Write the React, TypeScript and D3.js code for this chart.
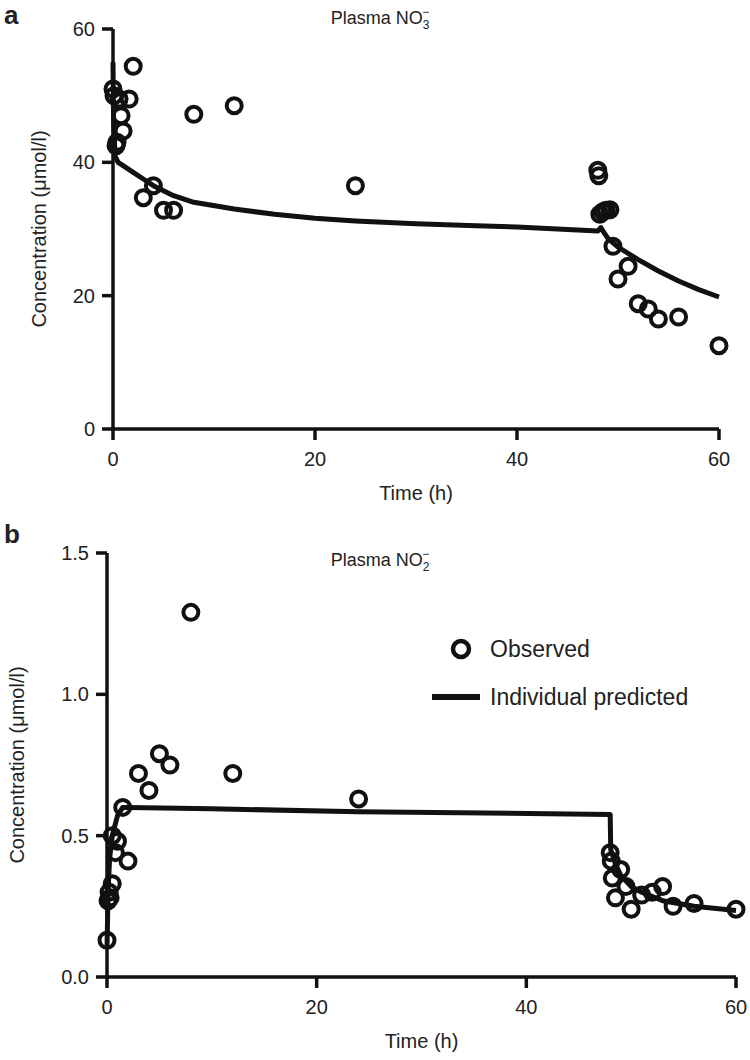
import React from "react";
import * as d3 from "d3";

// Panel a: Plasma NO3-
const aObsTime = [0, 0.1, 0.3, 0.4, 0.6, 0.8, 1.0, 1.6, 2.0, 3, 4, 5, 6, 8, 12, 24, 48, 48.1, 48.2, 48.5, 48.8, 49.2, 49.5, 50, 51, 52, 53, 54, 56, 60];
const aObsConc = [51, 50, 42.5, 43, 49.5, 47, 44.7, 49.5, 54.4, 34.7, 36.5, 32.8, 32.8, 47.2, 48.5, 36.5, 38.8, 38, 32.2, 32.6, 32.8, 32.9, 27.4, 22.5, 24.4, 18.8, 18, 16.5, 16.8, 12.5];
const aPredTime = [0, 0.05, 0.2, 0.5, 1, 2, 3, 4, 6, 8, 12, 16, 20, 24, 30, 36, 40, 44, 48, 48.3, 48.6, 49, 50, 52, 54, 56, 58, 60];
const aPredConc = [55, 47, 41, 40, 39.5, 38.5, 37.5, 36.5, 35, 34, 33, 32.2, 31.6, 31.2, 30.8, 30.5, 30.3, 30, 29.7, 30.2, 29.5, 28.6, 27.3, 25.4, 23.7, 22.2, 20.9, 19.8];
const aYTicks = [0, 20, 40, 60];

// Panel b: Plasma NO2-
const bObsTime = [0, 0.1, 0.2, 0.3, 0.5, 0.5, 0.8, 1.0, 1.5, 2, 3, 4, 5, 6, 8, 12, 24, 48, 48.1, 48.2, 48.5, 49, 49.5, 50, 51, 52, 53, 54, 56, 60];
const bObsConc = [0.13, 0.27, 0.3, 0.28, 0.33, 0.5, 0.44, 0.48, 0.6, 0.41, 0.72, 0.66, 0.79, 0.75, 1.29, 0.72, 0.63, 0.44, 0.41, 0.35, 0.28, 0.38, 0.32, 0.24, 0.29, 0.3, 0.32, 0.25, 0.26, 0.24];
const bPredTime = [0, 0.1, 0.25, 0.5, 1, 1.5, 2, 10, 24, 48, 48.05, 48.5, 49, 50, 51, 53, 56, 60];
const bPredConc = [0.1, 0.3, 0.42, 0.5, 0.57, 0.6, 0.6, 0.595, 0.585, 0.575, 0.45, 0.4, 0.36, 0.32, 0.3, 0.27, 0.25, 0.235];
const bYTicks = [0, 0.5, 1.0, 1.5];

const xTicks = [0, 20, 40, 60];

const FONT = "'Liberation Sans Narrow', 'Liberation Sans', Arial, sans-serif";

type PanelProps = {
  letter: string;
  letterY: number;
  x0: number; x1: number; yTop: number; yBot: number;
  yDomain: [number, number];
  yTicks: number[];
  yFmt: (v: number) => string;
  obsT: number[]; obsC: number[];
  predT: number[]; predC: number[];
  titleSub: string;
  titleY: number;
  ylabelX: number;
  legend?: boolean;
};

function Panel(p: PanelProps) {
  const x = d3.scaleLinear().domain([0, 60]).range([p.x0, p.x1]);
  const y = d3.scaleLinear().domain(p.yDomain).range([p.yBot, p.yTop]);
  const pred = p.predT.map((t, i) => [t, p.predC[i]] as [number, number]);
  const line = d3.line<[number, number]>().x(d => x(d[0])).y(d => y(d[1]));
  const yMid = (p.yTop + p.yBot) / 2;
  const titleX = 380;
  return (
    <g fontFamily={FONT} fill="#222">
      <text x={4} y={p.letterY} fontSize={26} fontWeight="bold" fontFamily="'Liberation Sans', Arial, sans-serif">{p.letter}</text>
      <text x={titleX} y={p.titleY} fontSize={18} textAnchor="middle">
        Plasma NO
        <tspan fontSize={12} dy={5}>{p.titleSub}</tspan>
        <tspan fontSize={12} dx={-7} dy={-13}>−</tspan>
      </text>
      {/* axes */}
      <line x1={p.x0} x2={p.x0} y1={p.yBot} y2={p.yTop} stroke="#111" strokeWidth={3.5} />
      <line x1={p.x0} x2={p.x1} y1={p.yBot} y2={p.yBot} stroke="#111" strokeWidth={3.5} />
      {p.yTicks.map(v => (
        <g key={"y" + v}>
          <line x1={p.x0 - 11} x2={p.x0} y1={y(v)} y2={y(v)} stroke="#111" strokeWidth={3.5} />
          <text x={p.x0 - 18} y={y(v) + 7} fontSize={20} textAnchor="end">{p.yFmt(v)}</text>
        </g>
      ))}
      {xTicks.map(v => (
        <g key={"x" + v}>
          <line x1={x(v)} x2={x(v)} y1={p.yBot} y2={p.yBot + 11} stroke="#111" strokeWidth={3.5} />
          <text x={x(v)} y={p.yBot + 37} fontSize={20} textAnchor="middle">{v}</text>
        </g>
      ))}
      <text x={(p.x0 + p.x1) / 2} y={p.yBot + 71} fontSize={20} textAnchor="middle">Time (h)</text>
      <text transform={`translate(${p.ylabelX},${yMid}) rotate(-90)`} fontSize={20} textAnchor="middle">Concentration (μmol/l)</text>
      {/* prediction */}
      <path d={line(pred) || ""} fill="none" stroke="#111" strokeWidth={5} strokeLinejoin="round" />
      {/* observed */}
      {p.obsT.map((t, i) => (
        <circle key={i} cx={x(t)} cy={y(p.obsC[i])} r={7.5} fill="none" stroke="#111" strokeWidth={4} />
      ))}
      {p.legend && (
        <g>
          <circle cx={461} cy={649} r={8} fill="none" stroke="#111" strokeWidth={4.5} />
          <text x={490} y={657} fontSize={23}>Observed</text>
          <line x1={432} x2={480} y1={697} y2={697} stroke="#111" strokeWidth={6} />
          <text x={490} y={705} fontSize={23}>Individual predicted</text>
        </g>
      )}
    </g>
  );
}

export default function App() {
  return (
    <svg width={750} height={1060} style={{ display: "block", position: "absolute", left: 0, top: 0, background: "#fff" }}>
      <Panel letter="a" letterY={24} x0={113} x1={719} yTop={29} yBot={429}
        yDomain={[0, 60]} yTicks={aYTicks} yFmt={v => String(v)}
        obsT={aObsTime} obsC={aObsConc} predT={aPredTime} predC={aPredConc}
        titleSub="3" titleY={24} ylabelX={46} />
      <Panel letter="b" letterY={543} x0={107} x1={736} yTop={553} yBot={977}
        yDomain={[0, 1.5]} yTicks={bYTicks} yFmt={v => v.toFixed(1)}
        obsT={bObsTime} obsC={bObsConc} predT={bPredTime} predC={bPredConc}
        titleSub="2" titleY={566} ylabelX={24} legend />
    </svg>
  );
}
